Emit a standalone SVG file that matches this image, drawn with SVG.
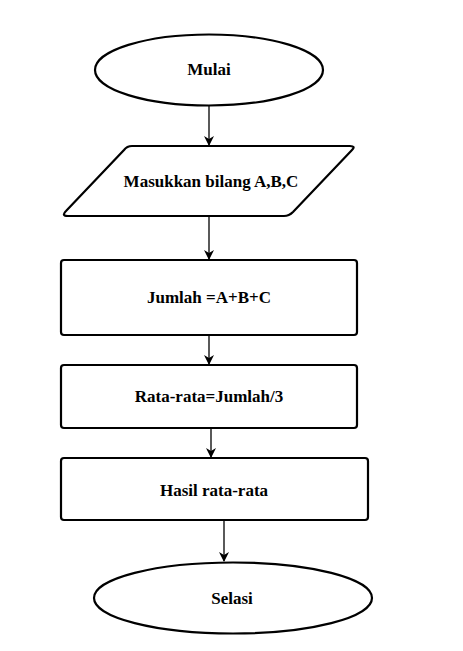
<svg xmlns="http://www.w3.org/2000/svg" width="463" height="651" viewBox="0 0 463 651">
<style>
.s{fill:#fff;stroke:#000;stroke-width:2.2}
.t{font-family:"Liberation Serif","Times New Roman",serif;font-weight:bold;font-size:17px;fill:#000;text-anchor:middle;dominant-baseline:central}
.c{stroke:#000;stroke-width:1.3;fill:none}
</style>
<defs>
<marker id="ah" markerWidth="10" markerHeight="10" refX="9" refY="5" orient="auto" markerUnits="userSpaceOnUse">
<path d="M0,0 L10,5 L0,10 L3,5 Z" fill="#000"/>
</marker>
</defs>
<rect width="463" height="651" fill="#fff"/>
<g id="connectors">
<line class="c" x1="209" y1="106" x2="209" y2="145" marker-end="url(#ah)"/>
<line class="c" x1="209" y1="217" x2="209" y2="259" marker-end="url(#ah)"/>
<line class="c" x1="209" y1="335" x2="209" y2="364" marker-end="url(#ah)"/>
<line class="c" x1="211" y1="428" x2="211" y2="457" marker-end="url(#ah)"/>
<line class="c" x1="224" y1="520" x2="224" y2="561" marker-end="url(#ah)"/>
</g>
<g id="mulai">
<ellipse class="s" cx="209" cy="70" rx="114" ry="35.5"/>
<text class="t" x="209" y="69">Mulai</text>
</g>
<g id="input">
<path class="s" d="M132,146 L350,146 Q356,146 352,150 L293,212 Q289,216 284,216 L68,216 Q61,216 66,211 L124,150 Q127,146 132,146 Z"/>
<text class="t" x="211" y="181">Masukkan bilang A,B,C</text>
</g>
<g id="jumlah">
<rect class="s" x="61" y="260" width="296" height="75" rx="3"/>
<text class="t" x="209" y="297">Jumlah =A+B+C</text>
</g>
<g id="ratarata">
<rect class="s" x="61" y="365" width="296" height="63" rx="3"/>
<text class="t" x="209" y="396">Rata-rata=Jumlah/3</text>
</g>
<g id="hasil">
<rect class="s" x="61" y="458" width="307" height="62" rx="3"/>
<text class="t" x="214" y="490">Hasil rata-rata</text>
</g>
<g id="selasi">
<ellipse class="s" cx="233" cy="598" rx="139" ry="35.5"/>
<text class="t" x="232" y="598">Selasi</text>
</g>
</svg>
